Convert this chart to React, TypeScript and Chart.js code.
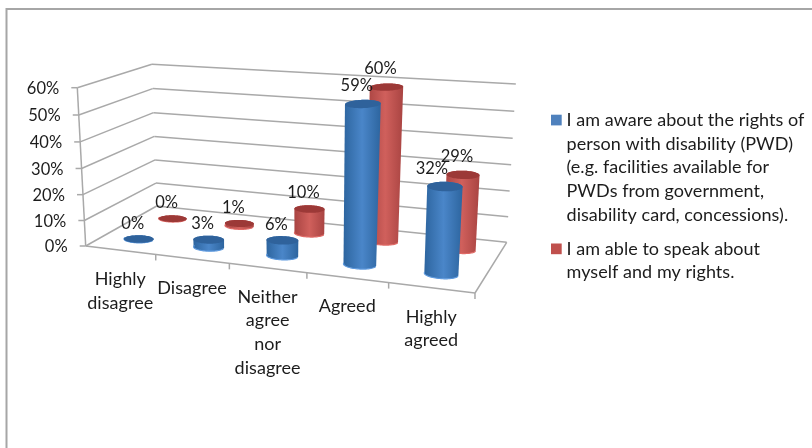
import React, { useEffect, useRef } from "react";
import { Chart, registerables } from "chart.js";

Chart.register(...registerables);

const categories = [
  ["Highly", "disagree"],
  ["Disagree"],
  ["Neither", "agree", "nor", "disagree"],
  ["Agreed"],
  ["Highly", "agreed"],
];
const awarenessValues = [0, 3, 6, 59, 32];
const speakingValues = [0, 1, 10, 60, 29];
const awarenessLines = [
  "I am aware about the rights of",
  "person with disability (PWD)",
  "(e.g. facilities available for",
  "PWDs from government,",
  "disability card, concessions).",
];
const speakingLines = ["I am able to speak about", "myself and my rights."];

const NUMBER_FONT = "16.5px Lato";
const TEXT_FONT = "18px Lato";
const INK = "#1c1c1c";
const GRID = "#a9a9a9";

// Perspective camera of the plot box: u runs along the categories, v up the
// value axis and d into the depth of the box, each from 0 to 1.
const origin = { x: 85.7, y: 246 };
const axisU = { x: 331.0, y: 11.05, w: -0.1227 };
const axisV = { x: -11.49, y: -161.8, w: -0.04 };
const axisD = { x: 90.34, y: -14.58, w: 0.1234 };

type P = { x: number; y: number };

function project(u: number, v: number, d: number): P {
  const w = 1 + u * axisU.w + v * axisV.w + d * axisD.w;
  return {
    x: (origin.x + u * axisU.x + v * axisV.x + d * axisD.x) / w,
    y: (origin.y + u * axisU.y + v * axisV.y + d * axisD.y) / w,
  };
}

function convexHull(points: P[]): P[] {
  const pts = [...points].sort((a, b) => a.x - b.x || a.y - b.y);
  const cross = (o: P, a: P, b: P) =>
    (a.x - o.x) * (b.y - o.y) - (a.y - o.y) * (b.x - o.x);
  const build = (list: P[]) => {
    const out: P[] = [];
    for (const p of list) {
      while (out.length >= 2 && cross(out[out.length - 2], out[out.length - 1], p) <= 0) out.pop();
      out.push(p);
    }
    out.pop();
    return out;
  };
  return [...build(pts), ...build([...pts].reverse())];
}

function tracePolygon(ctx: CanvasRenderingContext2D, pts: P[]) {
  ctx.beginPath();
  pts.forEach((p, i) => (i ? ctx.lineTo(p.x, p.y) : ctx.moveTo(p.x, p.y)));
  ctx.closePath();
}

function segment(ctx: CanvasRenderingContext2D, a: P, b: P) {
  ctx.beginPath();
  ctx.moveTo(a.x, a.y);
  ctx.lineTo(b.x, b.y);
  ctx.stroke();
}

const RADIUS_U = 0.04;
const RADIUS_D = 0.08;
// Caps flatten with height under the camera; this keeps them open.
const CAP_OPENING = 0.7;
// Cylinders stop just short of the wall gridline for the same value.
const CYLINDER_HEIGHT = 0.98;
const seriesDepth = [0.25, 0.75];
const cylinderTones = [
  { edge: "#2d659f", mid: "#4a86c9", top: "#2f629b", rim: "#5f9ade" },
  { edge: "#a94442", mid: "#d0605c", top: "#9c3937", rim: "#e06a66" },
];

function ring(u: number, v: number, d: number): P[] {
  const pts: P[] = [];
  const depth = RADIUS_D * (1 + CAP_OPENING * v);
  for (let i = 0; i <= 72; i++) {
    const a = (i / 72) * Math.PI * 2;
    pts.push(project(u + RADIUS_U * Math.cos(a), v, d + depth * Math.sin(a)));
  }
  return pts;
}

function drawCylinder(ctx: CanvasRenderingContext2D, u: number, v: number, d: number, tone: typeof cylinderTones[0]) {
  const base = ring(u, 0, d);
  const lid = ring(u, v, d);
  const hull = convexHull([...base, ...lid]);
  const xs = hull.map((p) => p.x);
  const left = Math.min(...xs);
  const right = Math.max(...xs);
  const body = ctx.createLinearGradient(left, 0, right, 0);
  body.addColorStop(0, tone.edge);
  body.addColorStop(0.5, tone.mid);
  body.addColorStop(1, tone.edge);
  tracePolygon(ctx, hull);
  ctx.fillStyle = body;
  ctx.fill();

  // Light catches the near half of the base rim.
  ctx.strokeStyle = tone.rim;
  ctx.lineWidth = 1.2;
  ctx.beginPath();
  base.slice(36).forEach((p, i) => (i ? ctx.lineTo(p.x, p.y) : ctx.moveTo(p.x, p.y)));
  ctx.stroke();

  tracePolygon(ctx, lid);
  ctx.fillStyle = tone.top;
  ctx.fill();
}

const cylinderPlugin = {
  id: "cylinderBox",
  beforeDatasetsDraw(chart: Chart) {
    const ctx = chart.ctx as CanvasRenderingContext2D & { letterSpacing: string };
    const xScale = chart.scales.x;
    const yScale = chart.scales.y;
    const uOf = (i: number) => (xScale.getPixelForValue(i) - xScale.left) / xScale.width;
    const vOf = (value: number) => (yScale.bottom - yScale.getPixelForValue(value)) / yScale.height;
    ctx.save();
    // A hair of tracking switches off the "ti" ligature.
    ctx.letterSpacing = "0.05px";

    // Frame of the chart object.
    ctx.strokeStyle = "#a6a6a6";
    ctx.lineWidth = 2;
    ctx.beginPath();
    ctx.moveTo(6.5, 448);
    ctx.lineTo(6.5, 9);
    ctx.lineTo(812, 9);
    ctx.stroke();

    // Gridlines on the side and back walls, with the value labels.
    ctx.strokeStyle = GRID;
    ctx.lineWidth = 1.5;
    ctx.font = NUMBER_FONT;
    ctx.textBaseline = "middle";
    yScale.ticks.forEach((tick: any) => {
      const v = vOf(tick.value);
      const front = project(0, v, 0);
      segment(ctx, front, project(0, v, 1));
      segment(ctx, project(0, v, 1), project(1, v, 1));
      segment(ctx, { x: front.x - 6, y: front.y }, front);
      ctx.fillStyle = INK;
      ctx.textAlign = "right";
      ctx.fillText(tick.label as string, front.x - 18, front.y + 1);
    });
    segment(ctx, project(0, 0, 0), project(0, 1, 0));

    // Floor outline and category ticks.
    segment(ctx, project(0, 0, 0), project(1, 0, 0));
    segment(ctx, project(1, 0, 0), project(1, 0, 1));
    const count = categories.length;
    for (let i = 1; i <= count; i++) {
      const p = project(i / count, 0, 0);
      segment(ctx, p, { x: p.x, y: p.y + 6 });
    }

    // Rear series first so the front series overlaps it.
    [1, 0].forEach((s) => {
      chart.data.datasets[s].data.forEach((value, i) => {
        drawCylinder(ctx, uOf(i), vOf(value as number) * CYLINDER_HEIGHT, seriesDepth[s], cylinderTones[s]);
      });
    });

    // Value labels float above each cylinder, clearing the wider caps of the taller ones.
    ctx.fillStyle = INK;
    ctx.textAlign = "center";
    [1, 0].forEach((s) => {
      chart.data.datasets[s].data.forEach((value, i) => {
        const v = vOf(value as number) * CYLINDER_HEIGHT;
        const top = project(uOf(i), v, seriesDepth[s]);
        // The lower label of the last pair sits further left to clear its neighbour.
        const shift = s === 0 && i === categories.length - 1 ? -13 : -6;
        ctx.fillText(`${value}%`, top.x + shift, top.y - Math.min(18, 15.5 + 5 * v));
      });
    });

    // Category labels under the front edge of the floor.
    ctx.font = TEXT_FONT;
    categories.forEach((lines, i) => {
      const anchor = project(uOf(i), 0, 0);
      lines.forEach((line, l) => ctx.fillText(line, anchor.x, anchor.y + 29 + l * 23.6));
    });

    // Legend to the right of the plot box.
    const legendRows = [
      { lines: awarenessLines, y: 120, color: "#4f81bd" },
      { lines: speakingLines, y: 248.8, color: "#c0504d" },
    ];
    ctx.textAlign = "left";
    legendRows.forEach((row) => {
      ctx.fillStyle = row.color;
      ctx.fillRect(551, row.y - 5.3, 10.7, 10.7);
      ctx.fillStyle = INK;
      row.lines.forEach((line, l) => ctx.fillText(line, 566.5, row.y + l * 23.75));
    });

    ctx.restore();
    return false;
  },
};

export default function App() {
  const ref = useRef<HTMLCanvasElement>(null);
  useEffect(() => {
    if (!ref.current) return;
    const chart = new Chart(ref.current, {
      type: "bar",
      data: {
        labels: categories.map((c) => c.join(" ")),
        datasets: [
          { label: awarenessLines.join(" "), data: awarenessValues, backgroundColor: "#4f81bd" },
          { label: speakingLines.join(" "), data: speakingValues, backgroundColor: "#c0504d" },
        ],
      },
      options: {
        responsive: false,
        animation: false,
        devicePixelRatio: 1,
        plugins: { legend: { display: false }, tooltip: { enabled: false } },
        scales: {
          x: { display: false },
          y: {
            display: false,
            min: 0,
            max: 60,
            ticks: { stepSize: 10, callback: (value) => `${value}%` },
          },
        },
      },
      plugins: [cylinderPlugin],
    });
    return () => chart.destroy();
  }, []);
  return (
    <div style={{ position: "fixed", left: 0, top: 0, width: 812, height: 448, background: "#ffffff" }}>
      <canvas ref={ref} width={812} height={448} style={{ display: "block" }} />
    </div>
  );
}
